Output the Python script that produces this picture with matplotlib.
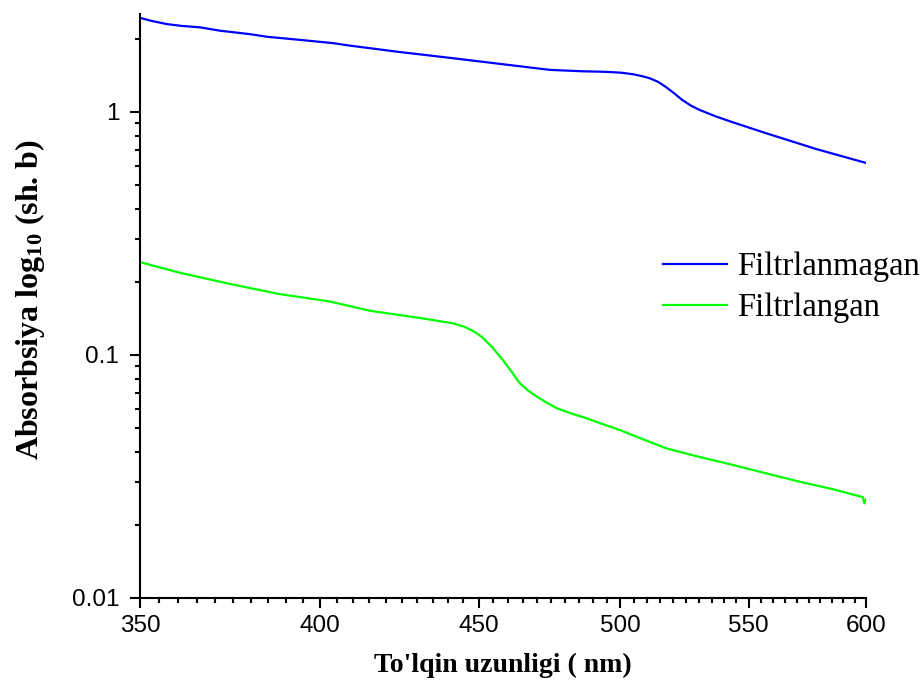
import matplotlib
matplotlib.use("Agg")
import matplotlib.pyplot as plt
from matplotlib.ticker import FixedLocator, FixedFormatter, NullFormatter, LogLocator

plt.rcParams['mathtext.fontset'] = 'custom'
plt.rcParams['mathtext.rm'] = 'Liberation Serif:bold'
plt.rcParams['mathtext.bf'] = 'Liberation Serif:bold'
plt.rcParams['mathtext.it'] = 'Liberation Serif:bold'

# Data
wl_blue = [350, 353.0, 357.0, 361.0, 365.9, 371.4, 379.8, 384.5, 394.1, 403.9, 409.0,
           424.4, 440.5, 474.5, 486.3, 492.3, 496.0, 500.5, 504.6, 508.0, 511.0,
           514.2, 517.3, 520.5, 523.5, 527.0, 530.3, 536.9, 543.5, 557.2, 578.2, 600]
abs_blue = [2.44, 2.37, 2.30, 2.26, 2.23, 2.16, 2.09, 2.04, 1.98, 1.92, 1.875,
            1.765, 1.67, 1.49, 1.47, 1.465, 1.46, 1.45, 1.43, 1.405, 1.376,
            1.33, 1.264, 1.19, 1.12, 1.06, 1.019, 0.957, 0.907, 0.817, 0.704, 0.617]

wl_green = [350, 360.5, 374.2, 388.3, 403.0, 415.2, 430.9, 441.5, 445.0, 448.0,
            451.0, 454.5, 458.2, 461.6, 464.0, 466.8, 469.9, 473.5, 476.9, 482.0,
            487.6, 492.3, 499.8, 508.0, 517.3, 530.0, 543.5, 557.0, 571.1, 585.0,
            598.6, 599.3, 600]
abs_green = [0.241, 0.218, 0.196, 0.178, 0.166, 0.152, 0.142, 0.135, 0.131, 0.126,
             0.119, 0.108, 0.0954, 0.084, 0.0765, 0.0715, 0.0674, 0.0635, 0.0604, 0.0575,
             0.0549, 0.0525, 0.0491, 0.0452, 0.0413, 0.0381, 0.0353, 0.0326, 0.0301, 0.0281,
             0.0260, 0.0245, 0.0255]

labels = ["Filtrlanmagan", "Filtrlangan"]
x_ticks = [350, 400, 450, 500, 550, 600]
x_tick_labels = ["350", "400", "450", "500", "550", "600"]
y_ticks = [0.01, 0.1, 1]
y_tick_labels = ["0.01", "0.1", "1"]

W, H = 924, 688
fig = plt.figure(figsize=(W / 100, H / 100), dpi=100)
left, right, bottom, top = 140, 866, 598, 14
ax = fig.add_axes([left / W, 1 - bottom / H, (right - left) / W, (bottom - top) / H])

ax.plot(wl_blue, abs_blue, color=(0, 0, 1), lw=1.6, label=labels[0])
ax.plot(wl_green, abs_green, color=(0, 1, 0), lw=1.6, label=labels[1])

ax.set_xscale('log')
ax.set_yscale('log')
ax.set_xlim(350, 600)
ax.set_ylim(0.01, 2.53)

ax.xaxis.set_major_locator(FixedLocator(x_ticks))
ax.xaxis.set_major_formatter(FixedFormatter(x_tick_labels))
ax.xaxis.set_minor_locator(FixedLocator(list(range(355, 600, 5))))
ax.xaxis.set_minor_formatter(NullFormatter())
ax.yaxis.set_major_locator(FixedLocator(y_ticks))
ax.yaxis.set_major_formatter(FixedFormatter(y_tick_labels))
ax.yaxis.set_minor_locator(LogLocator(base=10, subs=range(2, 10)))
ax.yaxis.set_minor_formatter(NullFormatter())

for s in ['top', 'right']:
    ax.spines[s].set_visible(False)
for s in ['left', 'bottom']:
    ax.spines[s].set_linewidth(1.5)

ax.tick_params(which='major', direction='out', length=7.5, width=1.5, labelsize=17.5)
ax.tick_params(which='minor', direction='out', length=3.8, width=1.5)
ax.tick_params(axis='x', which='major', pad=4.5)
ax.tick_params(axis='y', which='major', pad=7.5)
for lab in ax.get_xticklabels() + ax.get_yticklabels():
    lab.set_fontfamily('Liberation Sans')

fig.text(503 / W, 1 - 665 / H, "To'lqin uzunligi ( nm)", family='Liberation Serif',
         weight='bold', fontsize=20, ha='center', va='center')
fig.text(30 / W, 1 - 300 / H, r"Absorbsiya log$_{\mathbf{10}}$ (sh. b)",
         family='Liberation Serif', weight='bold', fontsize=23, ha='center',
         va='center', rotation=90)

leg = ax.legend(loc='upper left', bbox_to_anchor=(663 / W, 1 - 252 / H),
                bbox_transform=fig.transFigure, frameon=False,
                prop={'family': 'Liberation Serif', 'size': 23.5},
                handlelength=1.96, handletextpad=0.31, labelspacing=0.32,
                borderpad=0, borderaxespad=0)
for l in leg.get_lines():
    l.set_linewidth(1.6)

fig.savefig("out.png", dpi=100)
